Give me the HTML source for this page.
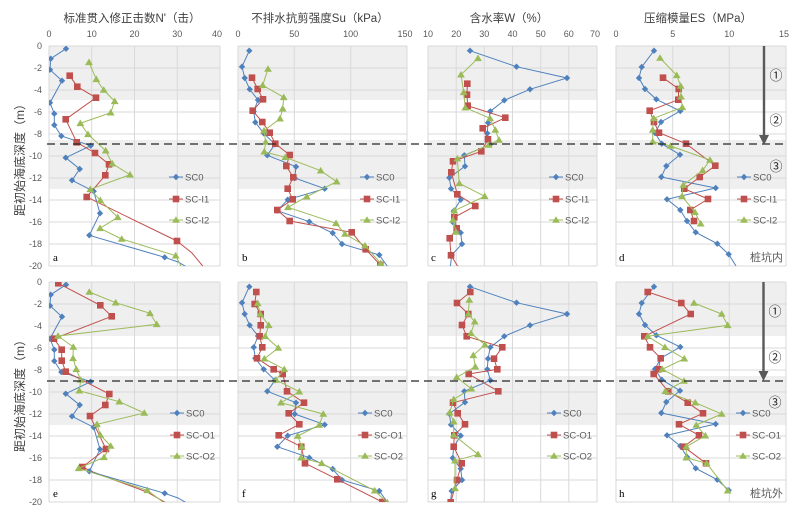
<!DOCTYPE html>
<html><head><meta charset="utf-8"><style>
html,body{margin:0;padding:0;background:#fff;}
svg{display:block;}
.t{font-family:"Liberation Sans","Noto Sans CJK SC",sans-serif;fill:#595959;}
</style></head><body>
<svg width="800" height="513" viewBox="0 0 800 513" xmlns="http://www.w3.org/2000/svg">
<defs>
<marker id="mb" viewBox="-5 -5 10 10" markerWidth="10" markerHeight="10" refX="0" refY="0" markerUnits="userSpaceOnUse"><path d="M0,-3.2 L3.2,0 L0,3.2 L-3.2,0Z" fill="#4f81bd"/></marker>
<marker id="mr" viewBox="-5 -5 10 10" markerWidth="10" markerHeight="10" refX="0" refY="0" markerUnits="userSpaceOnUse"><path d="M-3.3,-3.3 H3.3 V3.3 H-3.3Z" fill="#c0504d"/></marker>
<marker id="mg" viewBox="-5 -5 10 10" markerWidth="10" markerHeight="10" refX="0" refY="0" markerUnits="userSpaceOnUse"><path d="M0,-3.8 L3.9,2.8 L-3.9,2.8Z" fill="#9bbb59"/></marker>
<clipPath id="ca"><rect x="49" y="46" width="171" height="220"/></clipPath>
<clipPath id="cb"><rect x="238" y="46" width="169" height="220"/></clipPath>
<clipPath id="cc"><rect x="428" y="46" width="169" height="220"/></clipPath>
<clipPath id="cd"><rect x="616" y="46" width="170" height="220"/></clipPath>
<clipPath id="ce"><rect x="49" y="282" width="171" height="220"/></clipPath>
<clipPath id="cf"><rect x="238" y="282" width="169" height="220"/></clipPath>
<clipPath id="cg"><rect x="428" y="282" width="169" height="220"/></clipPath>
<clipPath id="ch"><rect x="616" y="282" width="170" height="220"/></clipPath>
</defs>
<rect width="800" height="513" fill="#fff"/>

<g fill="#efefef">
<rect x="49" y="46" width="171" height="54"/><rect x="238" y="46" width="169" height="54"/><rect x="428" y="46" width="169" height="54"/><rect x="616" y="46" width="170" height="54"/>
<rect x="49" y="140" width="171" height="49"/><rect x="238" y="140" width="169" height="49"/><rect x="428" y="140" width="169" height="49"/><rect x="616" y="140" width="170" height="49"/>
<rect x="49" y="282" width="171" height="54"/><rect x="238" y="282" width="169" height="54"/><rect x="428" y="282" width="169" height="54"/><rect x="616" y="282" width="170" height="54"/>
<rect x="49" y="376" width="171" height="49"/><rect x="238" y="376" width="169" height="49"/><rect x="428" y="376" width="169" height="49"/><rect x="616" y="376" width="170" height="49"/>
</g>

<g stroke="#d9d9d9" stroke-width="1" fill="none">
<path d="M49,46H220M49,68H220M49,90H220M49,112H220M49,134H220M49,156H220M49,178H220M49,200H220M49,222H220M49,244H220M49,266H220
M238,46H407M238,68H407M238,90H407M238,112H407M238,134H407M238,156H407M238,178H407M238,200H407M238,222H407M238,244H407M238,266H407
M428,46H597M428,68H597M428,90H597M428,112H597M428,134H597M428,156H597M428,178H597M428,200H597M428,222H597M428,244H597M428,266H597
M616,46H786M616,68H786M616,90H786M616,112H786M616,134H786M616,156H786M616,178H786M616,200H786M616,222H786M616,244H786M616,266H786
M49,46V266M91.75,46V266M134.5,46V266M177.25,46V266M220,46V266
M238,46V266M294.3,46V266M350.7,46V266M407,46V266
M428,46V266M456.2,46V266M484.3,46V266M512.5,46V266M540.7,46V266M568.8,46V266M597,46V266
M616,46V266M672.7,46V266M729.3,46V266M786,46V266"/>
<path transform="translate(0,236)" d="M49,46H220M49,68H220M49,90H220M49,112H220M49,134H220M49,156H220M49,178H220M49,200H220M49,222H220M49,244H220M49,266H220
M238,46H407M238,68H407M238,90H407M238,112H407M238,134H407M238,156H407M238,178H407M238,200H407M238,222H407M238,244H407M238,266H407
M428,46H597M428,68H597M428,90H597M428,112H597M428,134H597M428,156H597M428,178H597M428,200H597M428,222H597M428,244H597M428,266H597
M616,46H786M616,68H786M616,90H786M616,112H786M616,134H786M616,156H786M616,178H786M616,200H786M616,222H786M616,244H786M616,266H786
M49,46V266M91.75,46V266M134.5,46V266M177.25,46V266M220,46V266
M238,46V266M294.3,46V266M350.7,46V266M407,46V266
M428,46V266M456.2,46V266M484.3,46V266M512.5,46V266M540.7,46V266M568.8,46V266M597,46V266
M616,46V266M672.7,46V266M729.3,46V266M786,46V266"/>
</g>

<g class="t" font-size="11.5" text-anchor="middle" style="fill:#404040">
<text x="132" y="22">标准贯入修正击数N'（击）</text>
<text x="320" y="22">不排水抗剪强度Su（kPa）</text>
<text x="509" y="22">含水率W（%）</text>
<text x="698" y="22">压缩模量ES（MPa）</text>
</g>

<g class="t" font-size="9" text-anchor="middle">
<text x="49" y="37">0</text><text x="91.75" y="37">10</text><text x="134.5" y="37">20</text><text x="177.25" y="37">30</text><text x="217" y="37">40</text>
<text x="238" y="37">0</text><text x="294.3" y="37">50</text><text x="350.7" y="37">100</text><text x="405" y="37">150</text>
<text x="428" y="37">10</text><text x="456.2" y="37">20</text><text x="484.3" y="37">30</text><text x="512.5" y="37">40</text><text x="540.7" y="37">50</text><text x="568.8" y="37">60</text><text x="595" y="37">70</text>
<text x="616" y="37">0</text><text x="672.7" y="37">5</text><text x="729.3" y="37">10</text><text x="784" y="37">15</text>
</g>

<g class="t" font-size="9" text-anchor="end">
<text x="42" y="49">0</text><text x="42" y="71">-2</text><text x="42" y="93">-4</text><text x="42" y="115">-6</text><text x="42" y="137">-8</text><text x="42" y="159">-10</text><text x="42" y="181">-12</text><text x="42" y="203">-14</text><text x="42" y="225">-16</text><text x="42" y="247">-18</text><text x="42" y="269">-20</text>
<text x="42" y="285">0</text><text x="42" y="307">-2</text><text x="42" y="329">-4</text><text x="42" y="351">-6</text><text x="42" y="373">-8</text><text x="42" y="395">-10</text><text x="42" y="417">-12</text><text x="42" y="439">-14</text><text x="42" y="461">-16</text><text x="42" y="483">-18</text><text x="42" y="505">-20</text>
</g>

<g class="t" font-size="12" text-anchor="middle" style="fill:#404040">
<text transform="translate(24,157) rotate(-90)">距初始海底深度（m）</text>
<text transform="translate(24,393) rotate(-90)">距初始海底深度（m）</text>
</g>

<g fill="none" stroke-width="1">
<g clip-path="url(#ca)">
<polyline stroke="#4f81bd" points="164.7,257.3 178,262 192,270"/>
<polyline stroke="#c0504d" points="177,241 192,253 206,270"/>
<polyline stroke="#9bbb59" points="175.7,255.7 183,270"/>
<polyline stroke="#4f81bd" marker-start="url(#mb)" marker-mid="url(#mb)" marker-end="url(#mb)" points="66,48.7 50.7,58.7 50,69.7 62,80.7 50,102.7 54.3,113.7 54.3,125 61.3,136 90.7,145.7 65.7,157.7 79.7,169 72,180.3 93.7,191.3 100,213.3 89.3,235.3 164.7,257.3"/>
<polyline stroke="#c0504d" marker-start="url(#mr)" marker-mid="url(#mr)" marker-end="url(#mr)" points="69.7,75.7 77.3,86.7 96,97.7 65.7,119.3 76.7,142.3 95,153 109,164.3 105.3,175.3 86.7,197 177,241"/>
<polyline stroke="#9bbb59" marker-start="url(#mg)" marker-mid="url(#mg)" marker-end="url(#mg)" points="89,62.3 96.3,79.3 103.7,90 114.7,101.3 110.7,112.7 80.3,123.3 88,134.3 105.7,150.7 112.3,163.7 130,174.7 90.3,189.3 100.3,200.3 117.7,217.3 100,228.3 121.7,239 175.7,255.7"/>
</g>
<g clip-path="url(#cb)">
<polyline stroke="#4f81bd" points="379.3,255 390,270"/>
<polyline stroke="#4f81bd" marker-start="url(#mb)" marker-mid="url(#mb)" marker-end="url(#mb)" points="249.3,50.7 242,66.7 244.7,78 249.7,89.3 258,100 253.7,111.3 255.3,122.3 263.7,133.3 275,144.3 267.3,155.3 296,166.7 294.7,178 324.7,188.7 287.7,199.7 277.3,210.7 309.3,221.7 332.7,233 342,244 379.3,255"/>
<polyline stroke="#c0504d" marker-start="url(#mr)" marker-mid="url(#mr)" marker-end="url(#mr)" points="252,77.7 257.7,89 263,99.3 252.7,110.7 262.3,122 269.7,132.7 275.3,143.7 289.7,155 286.3,166 293.3,177.3 287.7,188.7 292.7,199.3 277.3,210 289.7,221 351.7,232.3 365.7,249.3 380.3,265"/>
<polyline stroke="#9bbb59" marker-start="url(#mg)" marker-mid="url(#mg)" marker-end="url(#mg)" points="268,69 262.7,85.3 283.7,97.3 282.7,108.7 280,118.7 264,130.7 265.7,142 264.3,151.7 285.3,157.3 320.7,170.7 336.7,181.7 306.7,196.7 288,207.3 336,223.3 345,234 365,245.7 380.7,263.3"/>
</g>
<g clip-path="url(#cc)">
<polyline stroke="#4f81bd" points="451.7,255 450,270"/>
<polyline stroke="#c0504d" points="451,255.3 460,270"/>
<polyline stroke="#4f81bd" marker-start="url(#mb)" marker-mid="url(#mb)" marker-end="url(#mb)" points="470,50.7 516.5,66.7 567,78 530,89.3 504.3,100.3 490.3,111.3 488,122.7 487.3,133.3 490.3,144.3 464.3,155.3 465,166.3 449.3,177.7 451,188.7 460.7,199.7 453.7,211 452.7,222 460.7,232.7 462,244 451.7,255"/>
<polyline stroke="#c0504d" marker-start="url(#mr)" marker-mid="url(#mr)" marker-end="url(#mr)" points="467.3,83.7 467,94.7 467.7,105.7 505.3,117.7 482.7,128.3 488,139.3 481.3,151.3 453,161.3 451.3,172.3 457.3,194.3 475.3,206 454.3,217.3 456.7,228.3 449.7,238.3 451,255.3"/>
<polyline stroke="#9bbb59" marker-start="url(#mg)" marker-mid="url(#mg)" marker-end="url(#mg)" points="478,58.3 461,74.7 463.7,92.3 465.3,107.7 490,118.3 495.3,130 499,140 488.7,145 457.3,158.7 459.3,183.3 484.7,196.3 454.3,210.7 453,220 456,232"/>
</g>
<g clip-path="url(#cd)">
<polyline stroke="#4f81bd" points="728.7,254.3 736,266"/>
<polyline stroke="#4f81bd" marker-start="url(#mb)" marker-mid="url(#mb)" marker-end="url(#mb)" points="654,50.7 641.7,67 639,78 645,89 656.3,99.3 680.3,111 661,122 655,133 661.7,143.7 680,154.7 666.3,166 661.3,177 715.7,188 667,199.3 680.3,210 687,221 695.7,232.3 717.3,243.7 728.7,254.3"/>
<polyline stroke="#c0504d" marker-start="url(#mr)" marker-mid="url(#mr)" marker-end="url(#mr)" points="663,77.7 678.7,89 678.3,99.7 649.7,110.7 654,122 659,132.7 686,143.7 715.3,165.7 699.7,177 684.3,188.7 708,199 690.3,210 694,221"/>
<polyline stroke="#9bbb59" marker-start="url(#mg)" marker-mid="url(#mg)" marker-end="url(#mg)" points="660,58 676.7,75.3 680.7,86 681,96.7 682.3,107.3 653.7,118.3 652.7,130 652.7,141.7 670.7,146 710,160 702.7,170.3 683.3,185 682,196.3 695,212.3 700.7,223.7"/>
</g>

<g clip-path="url(#ce)">
<polyline stroke="#4f81bd" points="164.7,493.3 178,498 192,506"/>
<polyline stroke="#c0504d" points="82.3,467 93,472 147,492 168,504"/>
<polyline stroke="#9bbb59" points="147.3,490.3 165.7,504"/>
<polyline stroke="#4f81bd" marker-start="url(#mb)" marker-mid="url(#mb)" marker-end="url(#mb)" transform="translate(0,236)" points="66,48.7 50.7,58.7 50,69.7 62,80.7 50,102.7 54.3,113.7 54.3,125 61.3,136 90.7,145.7 65.7,157.7 79.7,169 72,180.3 93.7,191.3 100,213.3 89.3,235.3 164.7,257.3"/>
<polyline stroke="#c0504d" marker-start="url(#mr)" marker-mid="url(#mr)" marker-end="url(#mr)" points="58.3,283.3 100.3,305.3 111.7,316.3 54,338.7 61.7,349.7 61.7,360.7 65.7,371.7 109.3,394 105.3,405 90,416 106,449 82.3,467"/>
<polyline stroke="#9bbb59" marker-start="url(#mg)" marker-mid="url(#mg)" marker-end="url(#mg)" points="89.3,292 115.7,302.7 150,313.3 156.7,324.3 58,336 73.3,347 73,358.3 76.3,369.3 80.7,380 79.3,390.7 119.3,401.7 144.3,413 97,424.3 100.3,435 110.7,446 104,457.3 78.7,468.3 147.3,490.3"/>
</g>
<g clip-path="url(#cf)">
<polyline stroke="#4f81bd" points="379.3,491 390,506"/>
<polyline stroke="#4f81bd" marker-start="url(#mb)" marker-mid="url(#mb)" marker-end="url(#mb)" transform="translate(0,236)" points="249.3,50.7 242,66.7 244.7,78 249.7,89.3 258,100 253.7,111.3 255.3,122.3 263.7,133.3 275,144.3 267.3,155.3 296,166.7 294.7,178 324.7,188.7 287.7,199.7 277.3,210.7 309.3,221.7 332.7,233 342,244 379.3,255"/>
<polyline stroke="#c0504d" marker-start="url(#mr)" marker-mid="url(#mr)" marker-end="url(#mr)" points="256.3,292 254.7,304 260.7,314 260.7,325.3 259.7,336.3 262.3,347.3 257,358.3 273.7,369.3 282.7,374 287,391.3 304,402.7 288.7,413.3 299.3,424.3 278.7,435.3 301.3,446.7 305,463.3 337.3,479.3 382.3,502"/>
<polyline stroke="#9bbb59" marker-start="url(#mg)" marker-mid="url(#mg)" marker-end="url(#mg)" points="257.7,303.3 260.3,314 268.7,325.3 265.3,336.3 278.3,348 264.3,358.7 284.3,369.3 276,380 299.3,391.7 281,402.7 323.3,414 319.3,425 297.7,436 301.7,446.7 301,457.7 321.7,463.3 374.7,490.7 387.3,502.7"/>
</g>
<g clip-path="url(#cg)">
<polyline stroke="#4f81bd" points="451.7,491 450,506"/>
<polyline stroke="#4f81bd" marker-start="url(#mb)" marker-mid="url(#mb)" marker-end="url(#mb)" transform="translate(0,236)" points="470,50.7 516.5,66.7 567,78 530,89.3 504.3,100.3 490.3,111.3 488,122.7 487.3,133.3 490.3,144.3 464.3,155.3 465,166.3 449.3,177.7 451,188.7 460.7,199.7 453.7,211 452.7,222 460.7,232.7 462,244 451.7,255"/>
<polyline stroke="#c0504d" marker-start="url(#mr)" marker-mid="url(#mr)" marker-end="url(#mr)" points="470.3,292 457,303 468.3,314 462,325 466.7,336.3 502.3,347.3 494,358.7 497.3,369.3 468.7,374 498.3,391.3 453,402.7 457.7,413.3 465,424.3 454.3,435.3 453.7,446.7 461.7,463.3 457,480 450.7,502.3"/>
<polyline stroke="#9bbb59" marker-start="url(#mg)" marker-mid="url(#mg)" marker-end="url(#mg)" points="469.3,300 468.3,314 474.7,321.7 471,333.3 485,344.7 473.3,355.3 475.3,366.7 456.7,377.3 471.3,388.7 453.7,399.3 449.7,412.7 453.7,421.7 453.7,435 478,454.3 455,460.7 455,488.3"/>
</g>
<g clip-path="url(#ch)">
<polyline stroke="#4f81bd" marker-start="url(#mb)" marker-mid="url(#mb)" marker-end="url(#mb)" transform="translate(0,236)" points="654,50.7 641.7,67 639,78 645,89 656.3,99.3 680.3,111 661,122 655,133 661.7,143.7 680,154.7 666.3,166 661.3,177 715.7,188 667,199.3 680.3,210 687,221 695.7,232.3 717.3,243.7 728.7,254.3"/>
<polyline stroke="#c0504d" marker-start="url(#mr)" marker-mid="url(#mr)" marker-end="url(#mr)" points="647.7,292 681.3,303 690.7,314 644.3,336.3 650,347.3 660.7,358.3 658.3,369.3 653.7,374 668.3,391.3 687.7,402.7 703,413.3 679,424.3 699,435.3 683.7,446.7 706,463.3"/>
<polyline stroke="#9bbb59" marker-start="url(#mg)" marker-mid="url(#mg)" marker-end="url(#mg)" points="694,303 721.7,314 727.7,325.3 647.7,336.3 665,347.3 684.3,358.7 662.3,369.3 684,381 665.3,391.3 695.3,402.7 721.7,414 696.3,425 705.3,435.7 686.3,446.7 686.3,457.7 706.7,463.3 727.7,490.7"/>
</g>
</g>

<g fill="none" stroke-width="1">
<g transform="translate(185,0)"><line x1="-16" y1="177" x2="-2" y2="177" stroke="#4f81bd"/><line x1="-16" y1="177" x2="-9" y2="177" stroke="#4f81bd" marker-end="url(#mb)"/><line x1="-16" y1="199" x2="-2" y2="199" stroke="#c0504d"/><line x1="-16" y1="199" x2="-9" y2="199" stroke="#c0504d" marker-end="url(#mr)"/><line x1="-16" y1="220" x2="-2" y2="220" stroke="#9bbb59"/><line x1="-16" y1="220" x2="-9" y2="220" stroke="#9bbb59" marker-end="url(#mg)"/></g>
<g transform="translate(376,0)"><line x1="-16" y1="177" x2="-2" y2="177" stroke="#4f81bd"/><line x1="-16" y1="177" x2="-9" y2="177" stroke="#4f81bd" marker-end="url(#mb)"/><line x1="-16" y1="199" x2="-2" y2="199" stroke="#c0504d"/><line x1="-16" y1="199" x2="-9" y2="199" stroke="#c0504d" marker-end="url(#mr)"/><line x1="-16" y1="220" x2="-2" y2="220" stroke="#9bbb59"/><line x1="-16" y1="220" x2="-9" y2="220" stroke="#9bbb59" marker-end="url(#mg)"/></g>
<g transform="translate(565,0)"><line x1="-16" y1="177" x2="-2" y2="177" stroke="#4f81bd"/><line x1="-16" y1="177" x2="-9" y2="177" stroke="#4f81bd" marker-end="url(#mb)"/><line x1="-16" y1="199" x2="-2" y2="199" stroke="#c0504d"/><line x1="-16" y1="199" x2="-9" y2="199" stroke="#c0504d" marker-end="url(#mr)"/><line x1="-16" y1="220" x2="-2" y2="220" stroke="#9bbb59"/><line x1="-16" y1="220" x2="-9" y2="220" stroke="#9bbb59" marker-end="url(#mg)"/></g>
<g transform="translate(753,0)"><line x1="-16" y1="177" x2="-2" y2="177" stroke="#4f81bd"/><line x1="-16" y1="177" x2="-9" y2="177" stroke="#4f81bd" marker-end="url(#mb)"/><line x1="-16" y1="199" x2="-2" y2="199" stroke="#c0504d"/><line x1="-16" y1="199" x2="-9" y2="199" stroke="#c0504d" marker-end="url(#mr)"/><line x1="-16" y1="220" x2="-2" y2="220" stroke="#9bbb59"/><line x1="-16" y1="220" x2="-9" y2="220" stroke="#9bbb59" marker-end="url(#mg)"/></g>
<g transform="translate(186,236)"><line x1="-16" y1="177" x2="-2" y2="177" stroke="#4f81bd"/><line x1="-16" y1="177" x2="-9" y2="177" stroke="#4f81bd" marker-end="url(#mb)"/><line x1="-16" y1="199" x2="-2" y2="199" stroke="#c0504d"/><line x1="-16" y1="199" x2="-9" y2="199" stroke="#c0504d" marker-end="url(#mr)"/><line x1="-16" y1="220" x2="-2" y2="220" stroke="#9bbb59"/><line x1="-16" y1="220" x2="-9" y2="220" stroke="#9bbb59" marker-end="url(#mg)"/></g>
<g transform="translate(374,236)"><line x1="-16" y1="177" x2="-2" y2="177" stroke="#4f81bd"/><line x1="-16" y1="177" x2="-9" y2="177" stroke="#4f81bd" marker-end="url(#mb)"/><line x1="-16" y1="199" x2="-2" y2="199" stroke="#c0504d"/><line x1="-16" y1="199" x2="-9" y2="199" stroke="#c0504d" marker-end="url(#mr)"/><line x1="-16" y1="220" x2="-2" y2="220" stroke="#9bbb59"/><line x1="-16" y1="220" x2="-9" y2="220" stroke="#9bbb59" marker-end="url(#mg)"/></g>
<g transform="translate(563,236)"><line x1="-16" y1="177" x2="-2" y2="177" stroke="#4f81bd"/><line x1="-16" y1="177" x2="-9" y2="177" stroke="#4f81bd" marker-end="url(#mb)"/><line x1="-16" y1="199" x2="-2" y2="199" stroke="#c0504d"/><line x1="-16" y1="199" x2="-9" y2="199" stroke="#c0504d" marker-end="url(#mr)"/><line x1="-16" y1="220" x2="-2" y2="220" stroke="#9bbb59"/><line x1="-16" y1="220" x2="-9" y2="220" stroke="#9bbb59" marker-end="url(#mg)"/></g>
<g transform="translate(752,236)"><line x1="-16" y1="177" x2="-2" y2="177" stroke="#4f81bd"/><line x1="-16" y1="177" x2="-9" y2="177" stroke="#4f81bd" marker-end="url(#mb)"/><line x1="-16" y1="199" x2="-2" y2="199" stroke="#c0504d"/><line x1="-16" y1="199" x2="-9" y2="199" stroke="#c0504d" marker-end="url(#mr)"/><line x1="-16" y1="220" x2="-2" y2="220" stroke="#9bbb59"/><line x1="-16" y1="220" x2="-9" y2="220" stroke="#9bbb59" marker-end="url(#mg)"/></g>
</g>
<g class="t" font-size="9.5">
<text x="185" y="180.5">SC0</text><text x="185" y="202.5">SC-I1</text><text x="185" y="223.5">SC-I2</text>
<text x="376" y="180.5">SC0</text><text x="376" y="202.5">SC-I1</text><text x="376" y="223.5">SC-I2</text>
<text x="565" y="180.5">SC0</text><text x="565" y="202.5">SC-I1</text><text x="565" y="223.5">SC-I2</text>
<text x="753" y="180.5">SC0</text><text x="753" y="202.5">SC-I1</text><text x="753" y="223.5">SC-I2</text>
<text x="186" y="416.5">SC0</text><text x="186" y="438.5">SC-O1</text><text x="186" y="459.5">SC-O2</text>
<text x="374" y="416.5">SC0</text><text x="374" y="438.5">SC-O1</text><text x="374" y="459.5">SC-O2</text>
<text x="563" y="416.5">SC0</text><text x="563" y="438.5">SC-O1</text><text x="563" y="459.5">SC-O2</text>
<text x="752" y="416.5">SC0</text><text x="752" y="438.5">SC-O1</text><text x="752" y="459.5">SC-O2</text>
</g>

<g font-family="Liberation Serif, serif" font-size="11" fill="#000">
<text x="53" y="261">a</text><text x="242" y="261">b</text><text x="431" y="261">c</text><text x="619" y="261">d</text>
<text x="53" y="497">e</text><text x="242" y="497">f</text><text x="431" y="497">g</text><text x="619" y="497">h</text>
</g>
<g class="t" font-size="11" text-anchor="end">
<text x="783" y="261">桩坑内</text>
<text x="783" y="497">桩坑外</text>
</g>

<g stroke="#262626" stroke-width="1.3" stroke-dasharray="8,5" fill="none">
<line x1="47" y1="144" x2="787" y2="144"/>
<line x1="47" y1="381" x2="787" y2="381"/>
</g>

<g stroke="#595959" stroke-width="2.4" fill="none">
<line x1="764" y1="46" x2="764" y2="137"/>
<line x1="763.5" y1="282" x2="763.5" y2="373"/>
</g>
<g fill="#595959">
<polygon points="759,135 769,135 764,145"/>
<polygon points="758.5,371 768.5,371 763.5,381"/>
</g>

<g class="t" font-size="13" text-anchor="middle" style="fill:#262626">
<text x="776" y="80">①</text><text x="776" y="125">②</text><text x="776" y="171">③</text>
<text x="775" y="316">①</text><text x="775" y="362">②</text><text x="775" y="407">③</text>
</g>
</svg>
</body></html>
